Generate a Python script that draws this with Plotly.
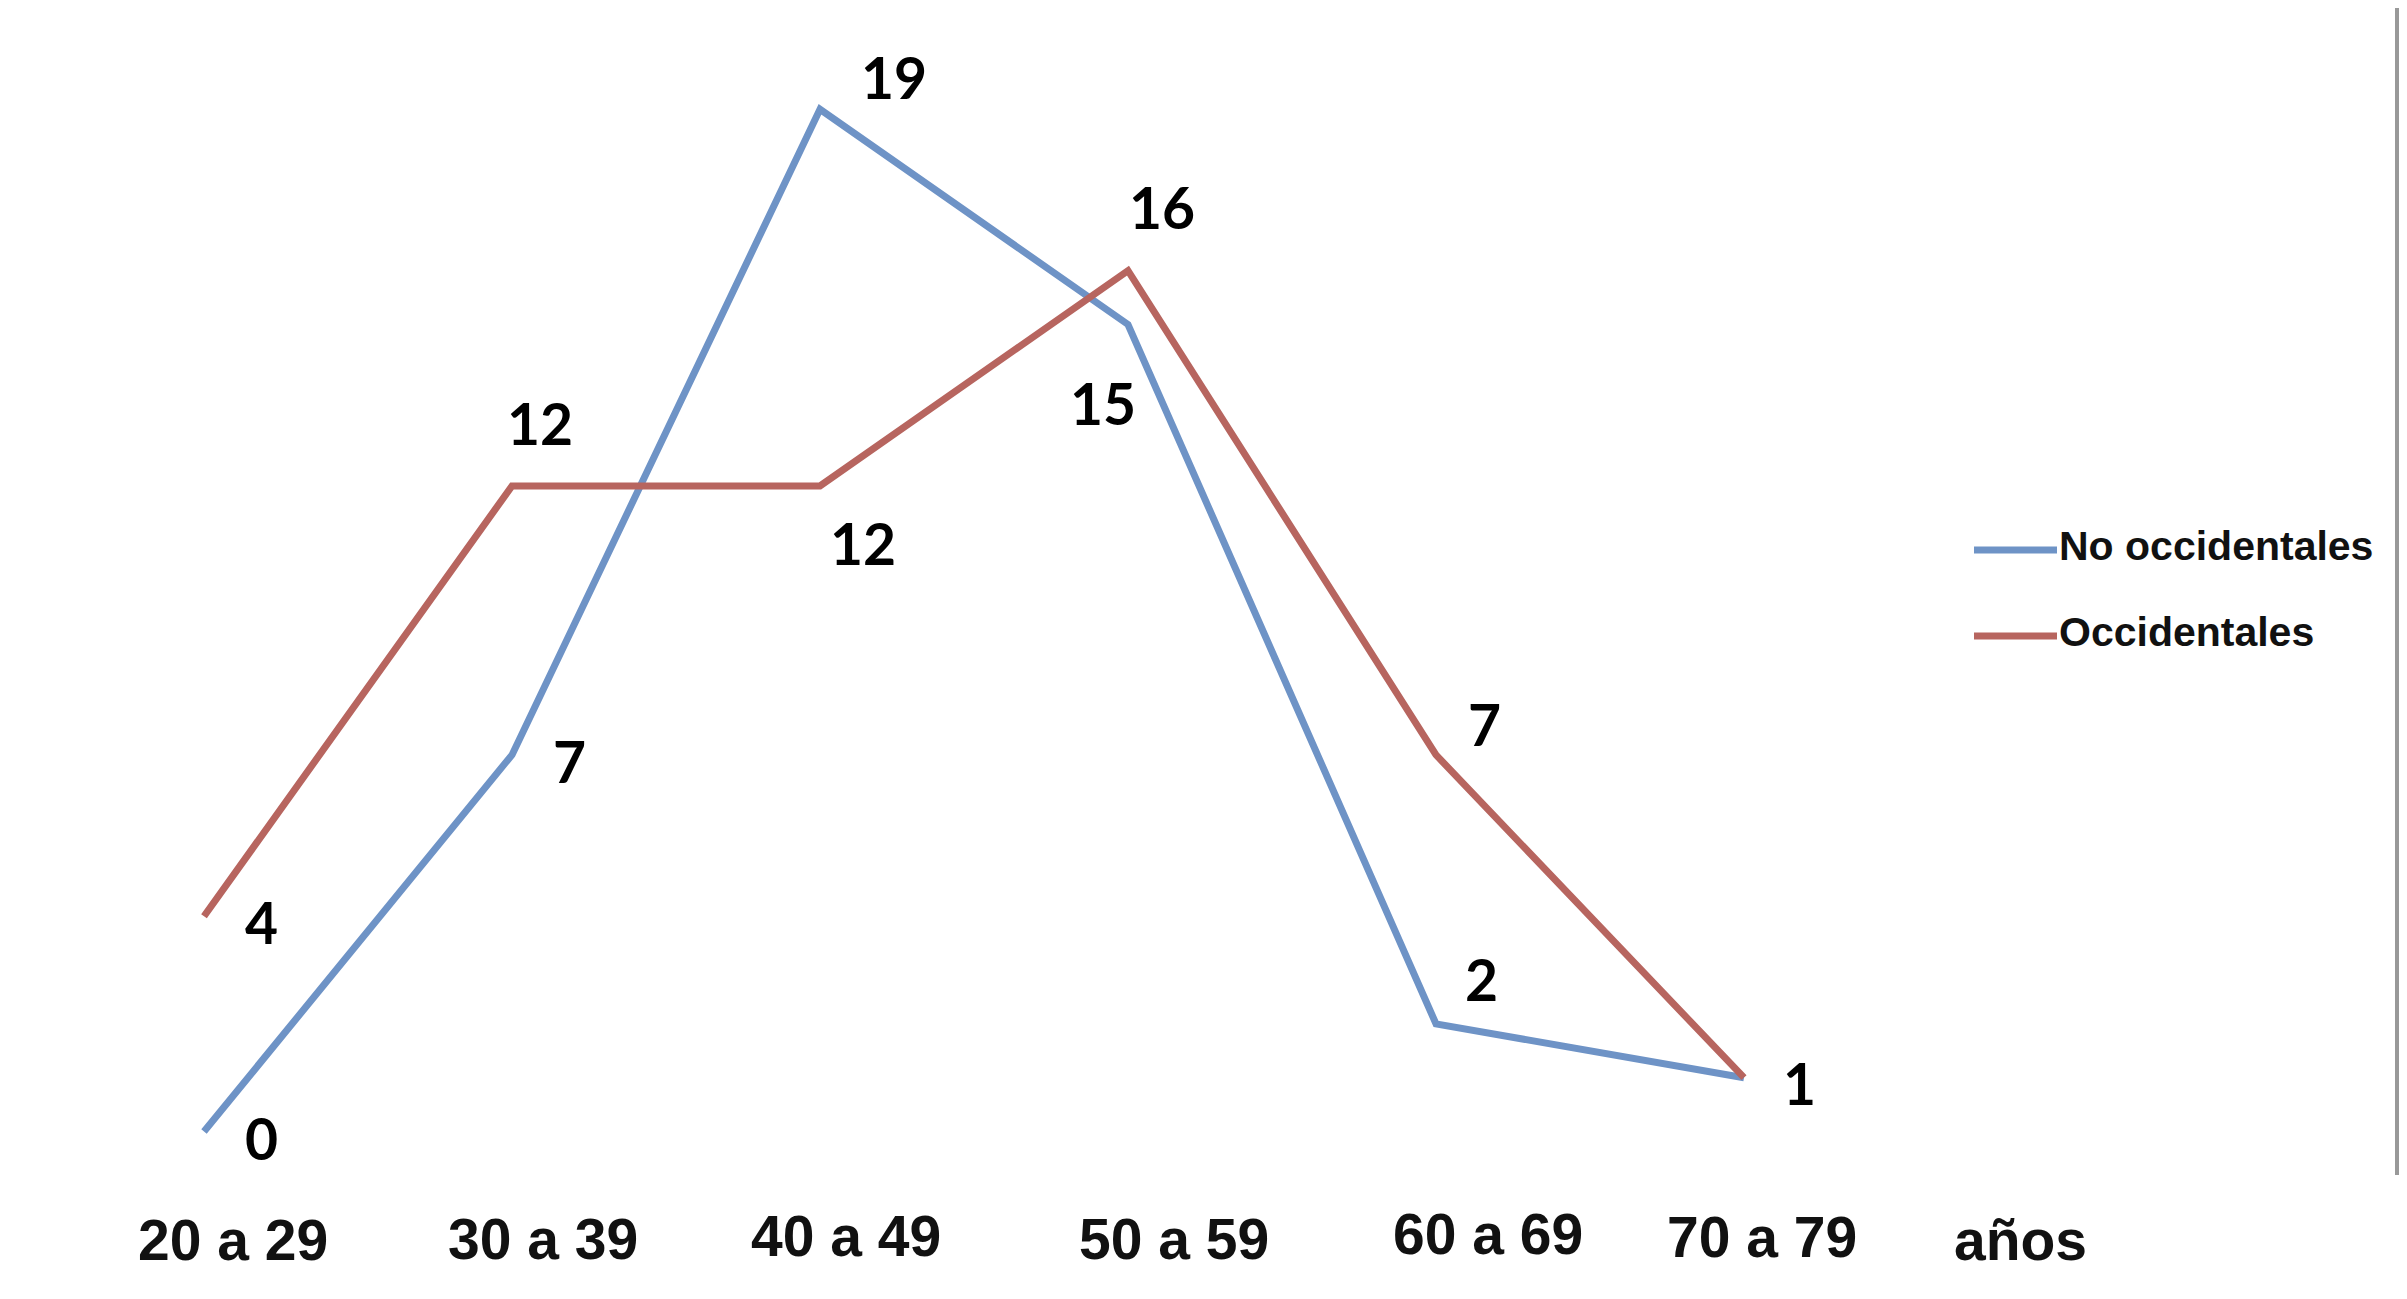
import plotly.graph_objects as go

categories = ["20 a 29", "30 a 39", "40 a 49", "50 a 59", "60 a 69", "70 a 79"]
no_occidentales = [0, 7, 19, 15, 2, 1]
occidentales = [4, 12, 12, 16, 7, 1]
series_names = ["No occidentales", "Occidentales"]
axis_unit = "años"

BLUE = "#6E93C6"
RED = "#B7655F"
SW, SH = 2407, 1299          # browser window
OFF = 8                      # page body margin
FW, FH = SW - 2 * OFF, SH - 2 * OFF   # figure size (avoids scrollbars)


def px(sx):
    return (sx - OFF) / FW


def py(sy):
    return 1 - (sy - OFF) / FH


fig = go.Figure()
fig.add_trace(go.Scatter(x=categories, y=no_occidentales, mode="lines",
                         line=dict(color=BLUE, width=7), name=series_names[0],
                         showlegend=False))
fig.add_trace(go.Scatter(x=categories, y=occidentales, mode="lines",
                         line=dict(color=RED, width=7), name=series_names[1],
                         showlegend=False))

label_font = dict(family="Lato, Carlito, Open Sans, sans-serif", size=57, color="#000000")
blue_off = [(57, -6), (57, -6), (74, 32), (-25, -78), (45, 45), (55, -5)]
red_off = [(57, -6), (28, 63), (43, -57), (34, 64), (48, 31), None]
anns = []
for i, (c, v) in enumerate(zip(categories, no_occidentales)):
    dx, dy = blue_off[i]
    anns.append(dict(x=c, y=v, xref="x", yref="y", text="<b>%d</b>" % v, showarrow=False,
                     xshift=dx, yshift=dy, font=label_font))
for i, (c, v) in enumerate(zip(categories, occidentales)):
    if red_off[i] is None:
        continue
    dx, dy = red_off[i]
    anns.append(dict(x=c, y=v, xref="x", yref="y", text="<b>%d</b>" % v, showarrow=False,
                     xshift=dx, yshift=dy, font=label_font))

tick_font = dict(family="Liberation Sans Narrow, Arial Narrow, Liberation Sans, sans-serif",
                 size=57, color="#111111")
tick_shift = [29, 31, 26, 46, 52, 18]
tick_y = [1240, 1239, 1236, 1239, 1234, 1237]
for i, c in enumerate(categories):
    anns.append(dict(x=c, y=py(tick_y[i]), xref="x", yref="paper",
                     text="<b>%s</b>" % c, showarrow=False, xshift=tick_shift[i],
                     font=tick_font, xanchor="center", yanchor="middle"))
anns.append(dict(x=px(2020), y=py(1240), xref="paper", yref="paper",
                 text="<b>%s</b>" % axis_unit, showarrow=False, font=tick_font,
                 xanchor="center", yanchor="middle"))

# manual legend
leg_font = dict(family="Liberation Sans, Arial, sans-serif", size=41, color="#111111")
shapes = []
for name, col, ypix in [(series_names[0], BLUE, 550), (series_names[1], RED, 636)]:
    shapes.append(dict(type="line", xref="paper", yref="paper",
                       x0=px(1974), x1=px(2057), y0=py(ypix), y1=py(ypix),
                       line=dict(color=col, width=7)))
    anns.append(dict(x=px(2057), y=py(ypix - 4), xref="paper",
                     yref="paper", text="<b>%s</b>" % name, showarrow=False,
                     font=leg_font, xanchor="left", yanchor="middle"))

# right border line
shapes.append(dict(type="line", xref="paper", yref="paper",
                   x0=px(2397), x1=px(2397), y0=1, y1=py(1175),
                   line=dict(color="#999999", width=4)))

x0_pix, x_step = 204 - OFF, 308
y0_pix, y_unit = 1131.5 - OFF, 53.8
ymin = -(FH - y0_pix) / y_unit
ymax = ymin + FH / y_unit

fig.update_layout(
    width=FW, height=FH,
    margin=dict(l=0, r=0, t=0, b=0),
    paper_bgcolor="white", plot_bgcolor="white",
    xaxis=dict(type="category", range=[-x0_pix / x_step, (FW - x0_pix) / x_step],
               showgrid=False, zeroline=False, showticklabels=False, showline=False,
               fixedrange=True),
    yaxis=dict(range=[ymin, ymax], showgrid=False, zeroline=False,
               showticklabels=False, showline=False, fixedrange=True),
    annotations=anns, shapes=shapes, showlegend=False,
)

fig.write_html("out.html")
